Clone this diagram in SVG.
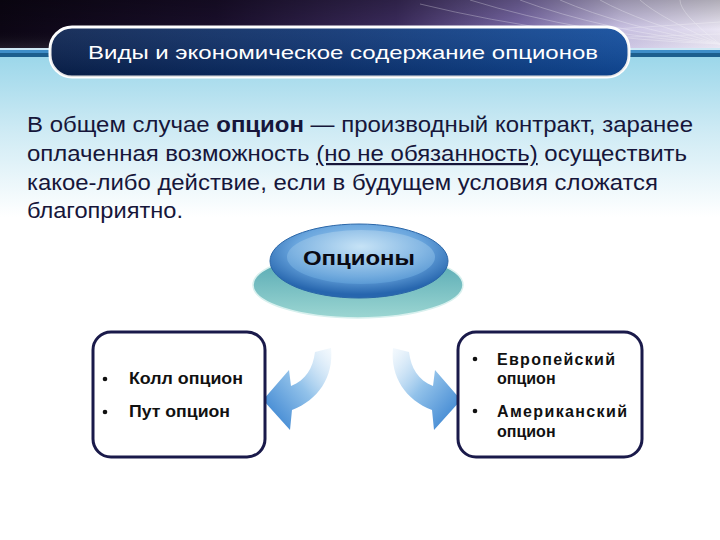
<svg xmlns="http://www.w3.org/2000/svg" width="720" height="540" viewBox="0 0 720 540">
<defs>
<linearGradient id="bandH" x1="0" y1="0" x2="1" y2="0">
<stop offset="0" stop-color="#0c0614"/>
<stop offset="0.3" stop-color="#1a0f2c"/>
<stop offset="0.55" stop-color="#3c2c5e"/>
<stop offset="0.72" stop-color="#7a6aa8"/>
<stop offset="0.86" stop-color="#c8c0e2"/>
<stop offset="1" stop-color="#eae6f4"/>
</linearGradient>
<linearGradient id="bandV" x1="0" y1="0" x2="0" y2="1">
<stop offset="0" stop-color="#000" stop-opacity="0.25"/>
<stop offset="0.6" stop-color="#000" stop-opacity="0"/>
<stop offset="1" stop-color="#fff" stop-opacity="0.1"/>
</linearGradient>
<linearGradient id="sky" x1="0" y1="0" x2="0" y2="1">
<stop offset="0" stop-color="#9cd7ea"/>
<stop offset="0.45" stop-color="#cdeaf4"/>
<stop offset="1" stop-color="#ffffff"/>
</linearGradient>
<linearGradient id="pill" x1="0" y1="0" x2="1" y2="0">
<stop offset="0" stop-color="#08204e"/>
<stop offset="0.5" stop-color="#0b3272"/>
<stop offset="1" stop-color="#0e4a9c"/>
</linearGradient>
<linearGradient id="pillV" x1="0" y1="0" x2="0" y2="1">
<stop offset="0" stop-color="#fff" stop-opacity="0.08"/>
<stop offset="1" stop-color="#000" stop-opacity="0.12"/>
</linearGradient>
<radialGradient id="topEll" cx="0.5" cy="0.35" r="0.6">
<stop offset="0" stop-color="#a9d2f0"/>
<stop offset="0.6" stop-color="#6aa6de"/>
<stop offset="1" stop-color="#2766ae"/>
</radialGradient>
<radialGradient id="innerEll" cx="0.5" cy="0.3" r="0.7">
<stop offset="0" stop-color="#cfe8f8"/>
<stop offset="1" stop-color="#5e9ed8"/>
</radialGradient>
<linearGradient id="baseEll" x1="0" y1="0" x2="0" y2="1">
<stop offset="0" stop-color="#4ea4b0"/>
<stop offset="1" stop-color="#9cd6d2"/>
</linearGradient>
<linearGradient id="arrowG" x1="1" y1="0" x2="0" y2="1">
<stop offset="0" stop-color="#e4f1fb" stop-opacity="0.4"/>
<stop offset="0.45" stop-color="#92c2ea"/>
<stop offset="1" stop-color="#2a78cc"/>
</linearGradient>
<style>
.body{font-family:"Liberation Sans",Arial,sans-serif;font-size:22px;fill:#16163a}
.title{font-family:"Liberation Sans",Arial,sans-serif;font-size:19px;fill:#ffffff}
.box{fill:#ffffff;stroke:#1a1a4a;stroke-width:3}
.item{font-family:"Liberation Sans",Arial,sans-serif;font-size:16px;font-weight:bold;fill:#111}
.fan{fill:none;stroke:#ffffff;stroke-width:0.8}
</style>
</defs>

<!-- background -->
<rect x="0" y="0" width="720" height="540" fill="#ffffff"/>
<rect x="0" y="57" width="720" height="160" fill="url(#sky)"/>
<rect x="0" y="0" width="720" height="49" fill="url(#bandH)"/>
<rect x="0" y="0" width="720" height="49" fill="url(#bandV)"/>
<g opacity="0.35">
<path class="fan" d="M720,44 Q600,30 520,0"/>
<path class="fan" d="M720,44 Q620,26 560,0"/>
<path class="fan" d="M720,44 Q640,22 600,0"/>
<path class="fan" d="M720,44 Q660,18 640,0"/>
<path class="fan" d="M720,44 Q680,14 680,0"/>
<path class="fan" d="M720,44 Q580,34 470,0"/>
<path class="fan" d="M720,44 Q560,38 420,4"/>
<path class="fan" d="M600,30 L720,22"/>
<path class="fan" d="M600,38 L720,34"/>
</g>
<rect x="0" y="48" width="720" height="2" fill="#cfe8f4"/>
<rect x="0" y="50" width="720" height="3" fill="#3f8ec8"/>
<rect x="0" y="53" width="720" height="4" fill="#1d5f8e"/>

<!-- title -->
<g id="title">
<rect x="50" y="27" width="579" height="50" rx="22" fill="url(#pill)" stroke="#ffffff" stroke-width="3"/>
<rect x="50" y="27" width="579" height="50" rx="22" fill="url(#pillV)"/>
<text class="title" x="88" y="59" textLength="510" lengthAdjust="spacingAndGlyphs">Виды и экономическое содержание опционов</text>
</g>

<!-- body text -->
<g id="definition">
<text class="body" x="27" y="132" textLength="666" lengthAdjust="spacingAndGlyphs">В общем случае <tspan font-weight="bold">опцион</tspan> — производный контракт, заранее</text>
<text class="body" x="27" y="161" textLength="660" lengthAdjust="spacingAndGlyphs">оплаченная возможность <tspan text-decoration="underline">(но не обязанность)</tspan> осуществить</text>
<text class="body" x="27" y="190" textLength="631" lengthAdjust="spacingAndGlyphs">какое-либо действие, если в будущем условия сложатся</text>
<text class="body" x="27" y="218" textLength="156" lengthAdjust="spacingAndGlyphs">благоприятно.</text>
</g>

<!-- central node -->
<g id="options">
<ellipse cx="358" cy="285" rx="105" ry="33" fill="url(#baseEll)" stroke="#d8f0ee" stroke-width="1.5"/>
<ellipse cx="359" cy="261" rx="89" ry="37" fill="url(#topEll)" stroke="#2a66a8" stroke-width="1"/>
<ellipse cx="361" cy="257" rx="74" ry="27" fill="url(#innerEll)" opacity="0.8"/>
<text x="359" y="265" text-anchor="middle" font-family="'Liberation Sans',Arial,sans-serif" font-size="21" font-weight="bold" fill="#0a0a14" textLength="112" lengthAdjust="spacingAndGlyphs">Опционы</text>
</g>

<!-- connectors -->
<g id="connectors">
<path d="M331,348 C334,377 318,400 292,410 L290,430 L263,400 L289,370 L291,386 C306,380 313,368 315,352 Z" fill="url(#arrowG)"/>
<g transform="translate(724,0) scale(-1,1)">
<path d="M331,348 C334,377 318,400 292,410 L290,430 L263,400 L289,370 L291,386 C306,380 313,368 315,352 Z" fill="url(#arrowG)"/>
</g>
</g>

<!-- left box -->
<g id="call-put">
<rect class="box" x="93" y="332" width="172" height="125" rx="18"/>
<circle cx="105" cy="379" r="2.3" fill="#111"/>
<text class="item" x="129" y="384" textLength="114" lengthAdjust="spacingAndGlyphs">Колл опцион</text>
<circle cx="105" cy="412" r="2.3" fill="#111"/>
<text class="item" x="129" y="417" textLength="101" lengthAdjust="spacingAndGlyphs">Пут опцион</text>
</g>

<!-- right box -->
<g id="eu-us">
<rect class="box" x="458" y="332" width="184" height="125" rx="18"/>
<circle cx="475" cy="359" r="2.3" fill="#111"/>
<text class="item" x="497" y="365" textLength="118" lengthAdjust="spacing">Европейский</text>
<text class="item" x="497" y="384">опцион</text>
<circle cx="475" cy="411" r="2.3" fill="#111"/>
<text class="item" x="497" y="417" textLength="130" lengthAdjust="spacing">Американский</text>
<text class="item" x="497" y="437">опцион</text>
</g>
</svg>
